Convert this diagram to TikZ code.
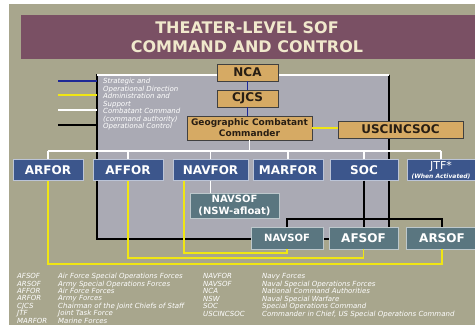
\documentclass[tikz,border=0pt]{standalone}
\usepackage{fontspec}
\setmainfont{DejaVu Sans}
\usepackage{tikz}
\usetikzlibrary{positioning}

\definecolor{olivebg}{RGB}{168,166,141}
\definecolor{titlepurple}{RGB}{122,80,100}
\definecolor{titlecream}{RGB}{240,232,204}
\definecolor{panelgray}{RGB}{170,170,180}
\definecolor{tanbox}{RGB}{214,170,100}
\definecolor{tantext}{RGB}{40,30,20}
\definecolor{forceblue}{RGB}{60,86,140}
\definecolor{sofgray}{RGB}{90,118,128}
\definecolor{dirblue}{RGB}{30,40,150}
\definecolor{admyellow}{RGB}{240,230,20}

\begin{document}
\begin{tikzpicture}[x=1pt,y=-1pt]
		\tikzstyle{Title}	= [align=center, text=titlecream, font=\bfseries\fontsize{16}{19}\selectfont]
		\tikzstyle{Lead}	= [rectangle, draw=black!75, fill=tanbox, text=tantext, inner sep=0pt, align=center, font=\bfseries\fontsize{12}{14}\selectfont]
		\tikzstyle{Force}	= [rectangle, draw=white!65!forceblue, fill=forceblue, text=white, inner sep=0pt, align=center, minimum height=21pt, font=\bfseries\fontsize{12}{14}\selectfont]
		\tikzstyle{Sof}		= [rectangle, draw=white!60!sofgray, fill=sofgray, text=white, inner sep=0pt, align=center, font=\bfseries\fontsize{12}{14}\selectfont]
		\tikzstyle{Key}		= [anchor=base west, inner xsep=6pt, inner ysep=0pt, align=left, text=white, font=\itshape\fontsize{7}{7.5}\selectfont]
		\tikzstyle{Gloss}	= [anchor=base west, inner sep=0pt, text=white, font=\itshape\fontsize{7}{7.3}\selectfont]
		\tikzstyle{Dir}		= [line width=1.3pt, dirblue]
		\tikzstyle{Adm}		= [line width=1.4pt, admyellow]
		\tikzstyle{Cmd}		= [line width=1.3pt, white]
		\tikzstyle{Opc}		= [line width=1.5pt, black]

		\useasboundingbox (0,0) rectangle (475,325);
		\fill[white] (0,0) rectangle (475,325);
		\fill[olivebg] (9,4) rectangle (475,325);
		\fill[titlepurple] (21,15) rectangle (475,59);
		\node (title) at (247,37.5) [Title] {THEATER-LEVEL SOF\\COMMAND AND CONTROL};

		% panel behind the chain of command
		\fill[panelgray] (97,75) rectangle (389,239);
		\draw[Opc] (97,74) -- (97,239) -- (389,239) -- (389,75);
		\draw[Cmd] (97,75) -- (389,75);

		% line key
		\node (k1) at (97,91) [Key] {Strategic and\\Operational Direction};
		\node (k2) at (97,106) [Key] {Administration and\\Support};
		\node (k3) at (97,121) [Key] {Combatant Command\\(command authority)};
		\node (k4) at (97,128.5) [Key] {Operational Control};
		\coordinate (s1) at (58,81);
		\coordinate (s2) at (58,95);
		\coordinate (s3) at (58,110);
		\coordinate (s4) at (58,125);
		\draw[Dir] (s1) -- (s1 -| k1.west);
		\draw[Adm] (s2) -- (s2 -| k2.west);
		\draw[Cmd] (s3) -- (s3 -| k3.west);
		\draw[Opc] (s4) -- (s4 -| k4.west);

		\node (nca) at (247.5,72.5) [Lead, minimum width=61pt, minimum height=17pt] {NCA};
		\node (cjcs) at (247.5,98.5) [Lead, minimum width=61pt, minimum height=17pt] {CJCS};
		\node (gcc) at (249.5,128) [Lead, minimum width=125pt, minimum height=24pt, font=\bfseries\fontsize{9}{11}\selectfont] {Geographic Combatant\\Commander};
		\node (usc) at (400.5,129.5) [Lead, minimum width=125pt, minimum height=17pt] {USCINCSOC};

		\node (arfor) at (48,170) [Force, minimum width=70pt] {ARFOR};
		\node (affor) at (128,170) [Force, minimum width=70pt] {AFFOR};
		\node (navfor) at (210.5,170) [Force, minimum width=75pt] {NAVFOR};
		\node (marfor) at (288,170) [Force, minimum width=70pt] {MARFOR};
		\node (soc) at (364,170) [Force, minimum width=68pt] {SOC};
		\node (jtf) at (441,170) [Force, minimum width=68pt, font=\fontsize{11}{10}\selectfont] {JTF*\\[-1pt]{\bfseries\itshape\fontsize{6}{6}\selectfont (When Activated)}};

		\node (nsw) at (234.5,205.5) [Sof, minimum width=89pt, minimum height=25pt, font=\bfseries\fontsize{10}{12}\selectfont] {NAVSOF\\(NSW-afloat)};
		\node (navsof) at (287,238) [Sof, minimum width=72pt, minimum height=22pt, font=\bfseries\fontsize{10}{12}\selectfont] {NAVSOF};
		\node (afsof) at (363.5,238) [Sof, minimum width=69pt, minimum height=22pt] {AFSOF};
		\node (arsof) at (442,238) [Sof, minimum width=72pt, minimum height=22pt] {ARSOF};

		% strategic direction
		\draw[Dir] (nca) -- (cjcs);
		\draw[Dir] (cjcs.south) -- (cjcs.south |- gcc.north);
		\draw[Adm] (gcc.east) -- (gcc.east -| usc.west);

		% combatant command
		\coordinate (bus) at (249.5,151);
		\draw[Cmd] (gcc.south) -- (bus);
		\draw[Cmd] (bus -| arfor.north) -- (bus -| jtf.north);
		\foreach \n in {arfor,affor,navfor,marfor,soc,jtf}
			\draw[Cmd] (\n.north) -- (\n.north |- bus);
		\draw[Cmd] (navfor.south) -- (navfor.south |- nsw.north);

		% operational control
		\coordinate (y0) at (0,219);
		\draw[Opc] (soc.south) -- (soc.south |- afsof.north);
		\draw[Opc] (navsof.north) |- (y0 -| arsof.north) -- (arsof.north);

		% administration and support
		\coordinate (y1) at (0,264);
		\coordinate (y2) at (0,258);
		\coordinate (y3) at (0,253);
		\draw[Adm] (arfor.south) |- (y1 -| arsof.south) -- (arsof.south);
		\draw[Adm] (affor.south) |- (y2 -| afsof.south) -- (afsof.south);
		\draw[Adm] ([xshift=11pt]navfor.south west) |- (y3 -| navsof.south) -- (navsof.south);

		% abbreviations
		\node (g1) at (17,278.5) [Gloss] {\begin{tabular}[t]{@{}p{41pt}@{}l@{}}
			AFSOF & Air Force Special Operations Forces\\
			ARSOF & Army Special Operations Forces\\
			AFFOR & Air Force Forces\\
			ARFOR & Army Forces\\
			CJCS & Chairman of the Joint Chiefs of Staff\\
			JTF & Joint Task Force\\
			MARFOR & Marine Forces
		\end{tabular}};
		\node (g2) at (203,278.5) [Gloss] {\begin{tabular}[t]{@{}p{59pt}@{}l@{}}
			NAVFOR & Navy Forces\\
			NAVSOF & Naval Special Operations Forces\\
			NCA & National Command Authorities\\
			NSW & Naval Special Warfare\\
			SOC & Special Operations Command\\
			USCINCSOC & Commander in Chief, US Special Operations Command
		\end{tabular}};
	\end{tikzpicture}
\end{document}
